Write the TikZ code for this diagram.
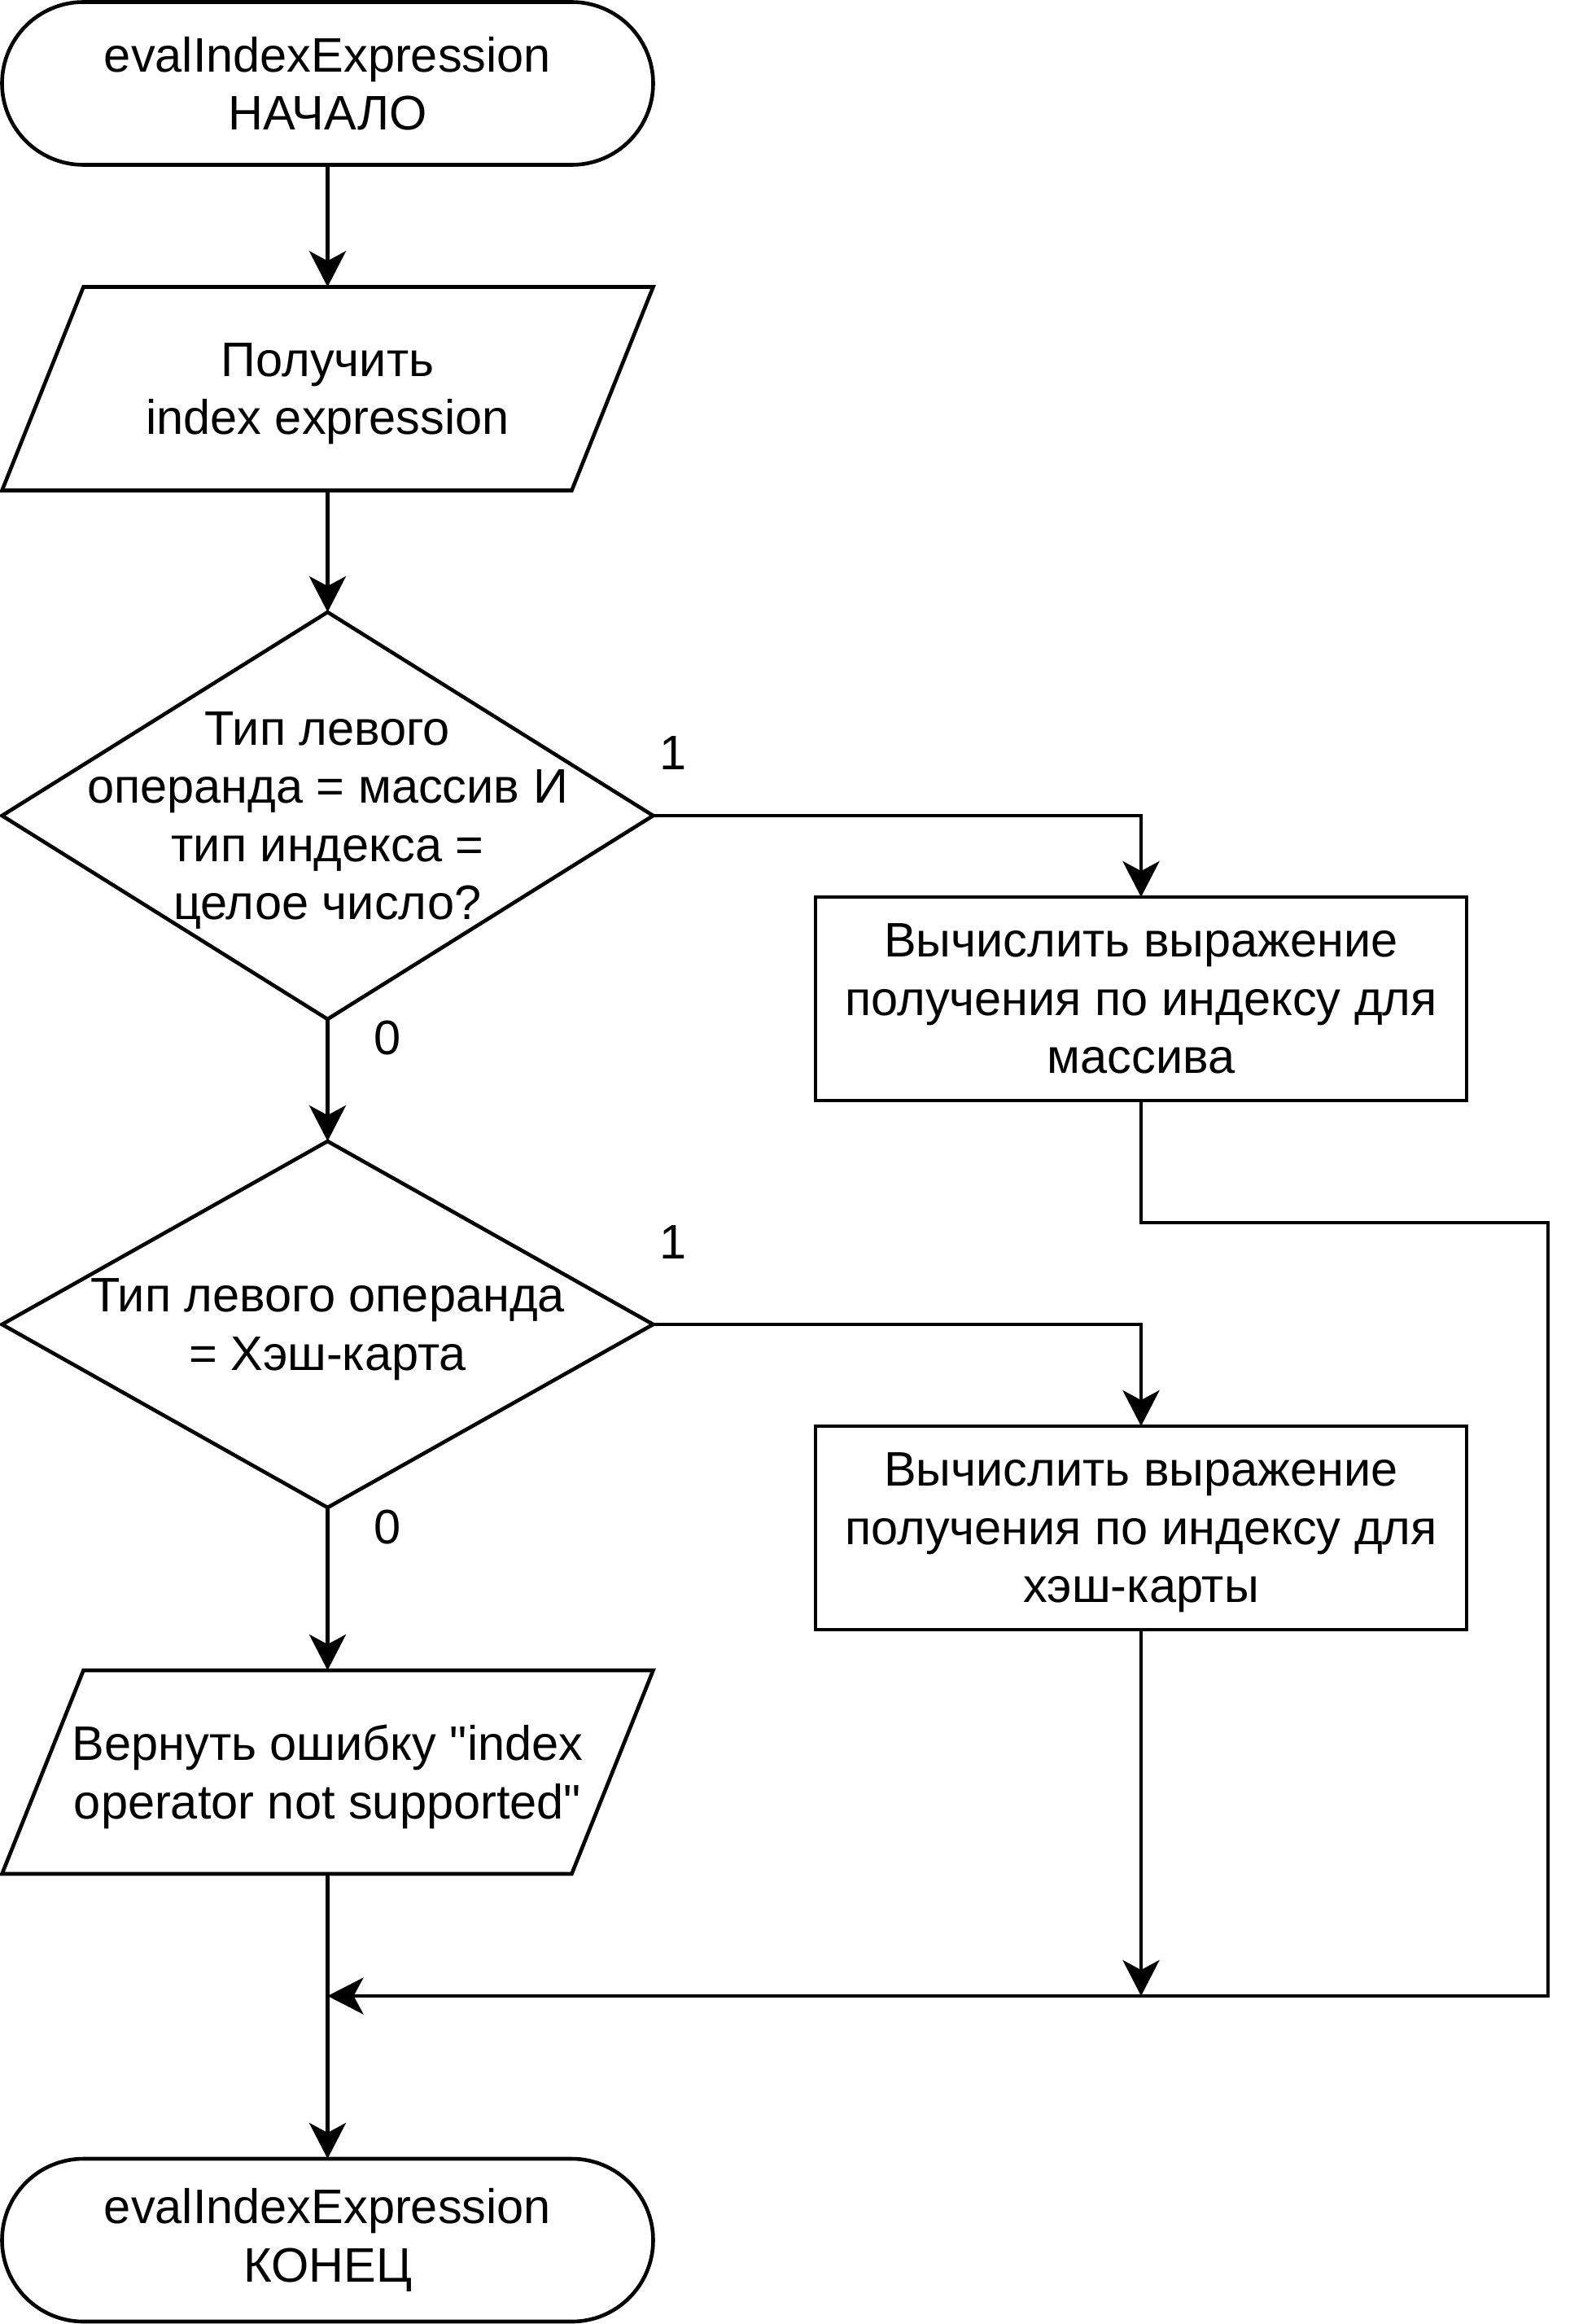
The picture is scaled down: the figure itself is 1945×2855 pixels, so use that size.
\documentclass[tikz,border=0pt]{standalone}
\usepackage{fontspec}
\setmainfont{Liberation Sans}[Ligatures=TeXOff]
\usetikzlibrary{arrows.meta,shapes.misc}
\begin{document}
\begin{tikzpicture}[x=1pt,y=-1pt,
  every node/.style={font=\fontsize{59.5}{71.5}\selectfont, align=center, inner sep=0pt, outer sep=0pt},
  ln/.style={line width=4.6pt, line join=miter},
  arr/.style={ln, -{Stealth[length=44pt,width=45pt,inset=12pt]}},
  term/.style={ln, draw, rounded rectangle, minimum width=800pt, minimum height=200pt},
  box/.style={ln, draw, rectangle, minimum width=800pt, minimum height=250pt},
  shapebase/.style={rectangle, minimum width=800pt},
  txt/.style={yshift=-6pt},
  lbl/.style={font=\fontsize{59.5}{71.5}\selectfont}
]
\useasboundingbox (0,0) rectangle (1945,2855);

% shapes
\node[term] (t1) at (402.5,102.5) {evalIndexExpression\\НАЧАЛО};
\node[shapebase, minimum height=250pt] (p1) at (402.5,477.5) {};
\node[shapebase, minimum height=500pt] (d1) at (402.5,1002) {};
\node[box] (b1) at (1402,1227) {Вычислить выражение\\получения по индексу для\\массива};
\node[shapebase, minimum height=450pt] (d2) at (402.5,1627) {};
\node[box] (b2) at (1402,1877) {};
\node[shapebase, minimum height=250pt] (p2) at (402.5,2177) {};
\node[term] (t2) at (402.5,2752) {evalIndexExpression\\КОНЕЦ};

% texts
\node[txt] (p1t) at (p1.center) {Получить\\index expression};
\node[txt] (d1t) at (d1.center) {Тип левого\\операнда = массив И\\тип индекса =\\целое число?};
\node[txt] (d2t) at (d2.center) {Тип левого операнда\\= Хэш-карта};
\node[txt] (b2t) at (b2.center) {Вычислить выражение\\получения по индексу для\\хэш-карты};
\node[txt] (p2t) at (p2.center) {Вернуть ошибку "index\\operator not supported"};

% outlines
\draw[ln] ([xshift=100pt]p1.north west) -- (p1.north east) -- ([xshift=-100pt]p1.south east) -- (p1.south west) -- cycle;
\draw[ln] (d1.north) -- (d1.east) -- (d1.south) -- (d1.west) -- cycle;
\draw[ln] (d2.north) -- (d2.east) -- (d2.south) -- (d2.west) -- cycle;
\draw[ln] ([xshift=100pt]p2.north west) -- (p2.north east) -- ([xshift=-100pt]p2.south east) -- (p2.south west) -- cycle;

% labels
\node[lbl] (l1a) at (827,925) {1};
\node[lbl] (l0a) at (476,1275) {0};
\node[lbl] (l1b) at (827,1526) {1};
\node[lbl] (l0b) at (476,1876) {0};

% helper coordinates
\coordinate (r1) at (1902,1502);
\coordinate (r2) at (1902,2452);
\coordinate (m) at (402.5,2452);
\coordinate (mb) at (1402,2452);

% connectors
\draw[arr] (t1.south) -- (p1.north);
\draw[arr] (p1.south) -- (d1.north);
\draw[arr] (d1.east) -| (b1.north);
\draw[arr] (d1.south) -- (d2.north);
\draw[arr] (d2.east) -| (b2.north);
\draw[arr] (d2.south) -- (p2.north);
\draw[arr] (p2.south) -- (t2.north);
\draw[arr] (b1.south) |- (r1) -- (r2) -- (m);
\draw[arr] (b2.south) -- (mb);
\end{tikzpicture}
\end{document}
